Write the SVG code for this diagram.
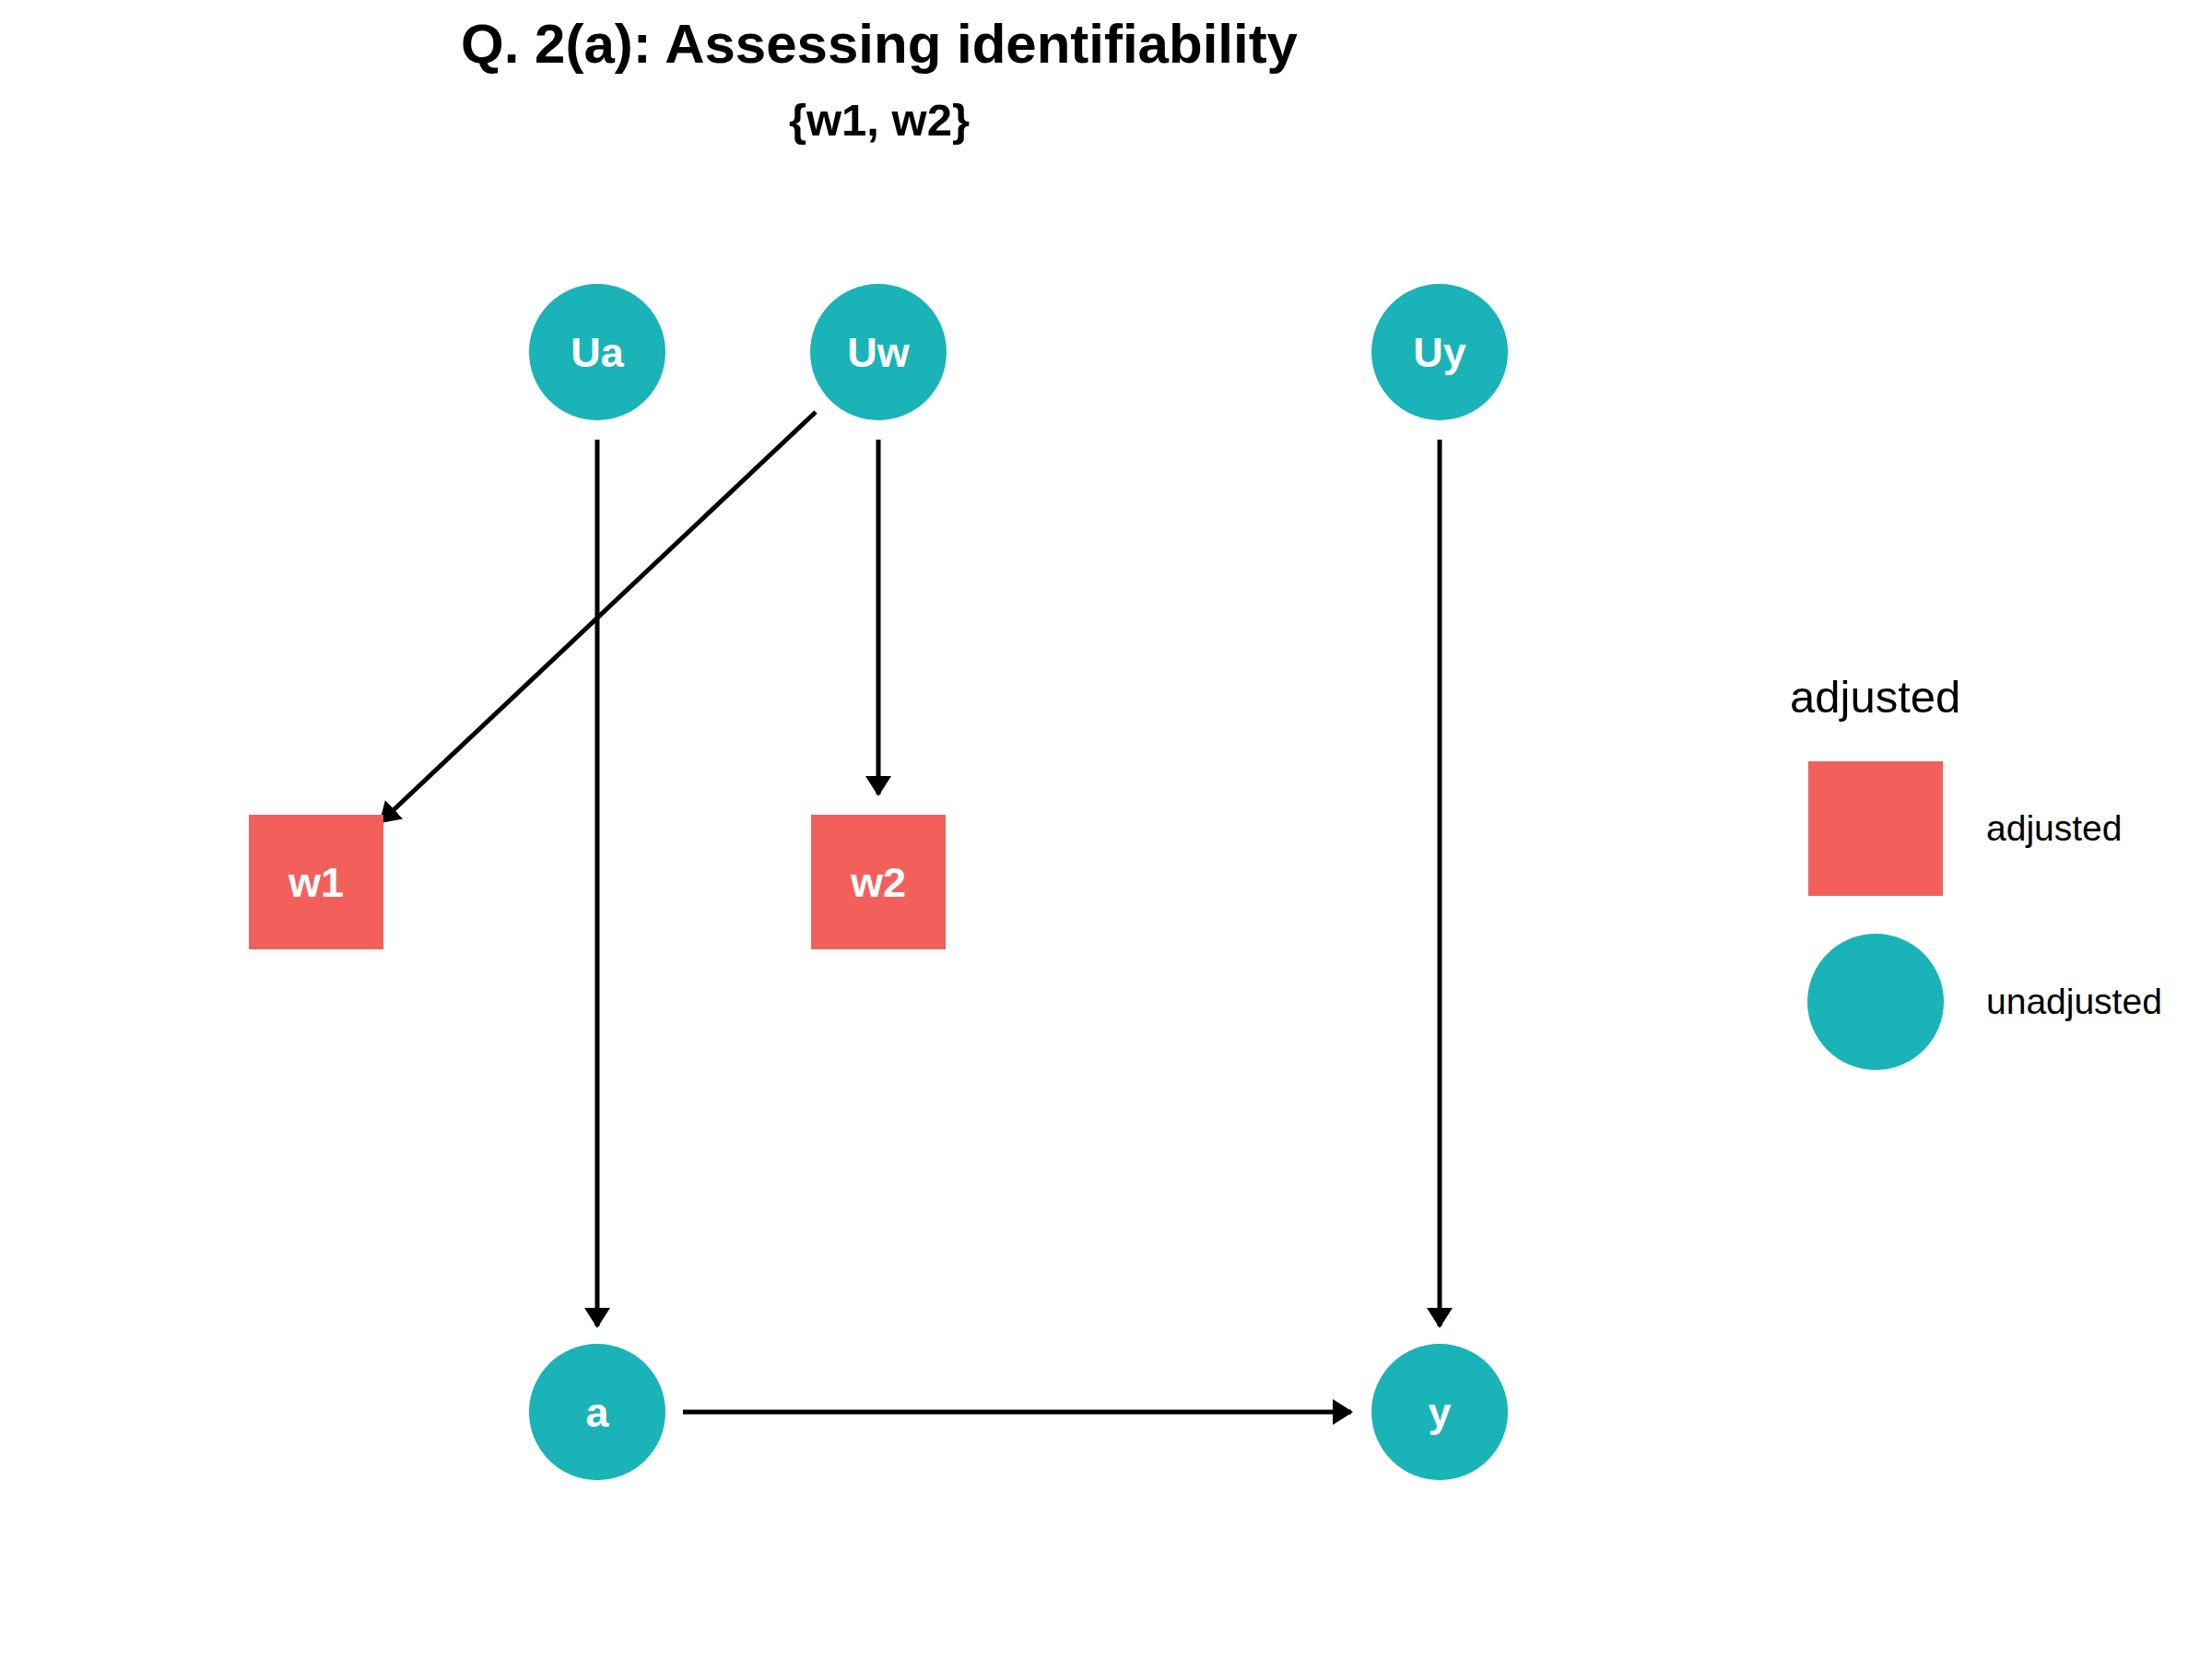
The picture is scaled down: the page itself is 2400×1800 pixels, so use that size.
<svg xmlns="http://www.w3.org/2000/svg" width="2400" height="1800" viewBox="0 0 2400 1800">
<style>
.bg{fill:#ffffff}
.title{font-family:"Liberation Sans",Arial,sans-serif;font-weight:bold;fill:#000;text-anchor:middle}
.circ{fill:#1AB3B7}
.sq{fill:#F3605C}
.lbl{font-family:"Liberation Sans",Arial,sans-serif;font-weight:bold;font-size:45px;fill:#ffffff;text-anchor:middle}
.edge{stroke:#000;stroke-width:5;fill:none;marker-end:url(#arr)}
.leg{font-family:"Liberation Sans",Arial,sans-serif;fill:#000}
</style>
<defs>
<marker id="arr" markerUnits="userSpaceOnUse" viewBox="0 0 22 28" markerWidth="22" markerHeight="28" refX="20" refY="14" orient="auto">
<path d="M0,0 L22,14 L0,28 z" fill="#000"/>
</marker>
</defs>
<rect class="bg" x="0" y="0" width="2400" height="1800"/>
<text class="title" x="954" y="68" font-size="60">Q. 2(a): Assessing identifiability</text>
<text class="title" x="954" y="147" font-size="49">{w1, w2}</text>

<g id="connectors">
<line class="edge" x1="648" y1="477" x2="648" y2="1439"/>
<line class="edge" x1="953" y1="477" x2="953" y2="862"/>
<line class="edge" x1="885" y1="447" x2="413" y2="892"/>
<line class="edge" x1="1562" y1="477" x2="1562" y2="1439"/>
<line class="edge" x1="741" y1="1532" x2="1466" y2="1532"/>
</g>

<g id="node-Ua"><circle class="circ" cx="648" cy="382" r="74"/><text class="lbl" x="648" y="398">Ua</text></g>
<g id="node-Uw"><circle class="circ" cx="953" cy="382" r="74"/><text class="lbl" x="953" y="398">Uw</text></g>
<g id="node-Uy"><circle class="circ" cx="1562" cy="382" r="74"/><text class="lbl" x="1562" y="398">Uy</text></g>
<g id="node-w1"><rect class="sq" x="270" y="884" width="146" height="146"/><text class="lbl" x="343" y="973">w1</text></g>
<g id="node-w2"><rect class="sq" x="880" y="884" width="146" height="146"/><text class="lbl" x="953" y="973">w2</text></g>
<g id="node-a"><circle class="circ" cx="648" cy="1532" r="74"/><text class="lbl" x="648" y="1548">a</text></g>
<g id="node-y"><circle class="circ" cx="1562" cy="1532" r="74"/><text class="lbl" x="1562" y="1548">y</text></g>

<g id="legend">
<text class="leg" x="1942" y="773" font-size="49">adjusted</text>
<rect class="sq" x="1962" y="826" width="146" height="146"/>
<text class="leg" x="2155" y="912" font-size="39">adjusted</text>
<circle class="circ" cx="2035" cy="1087" r="74"/>
<text class="leg" x="2155" y="1100" font-size="39">unadjusted</text>
</g>
</svg>
